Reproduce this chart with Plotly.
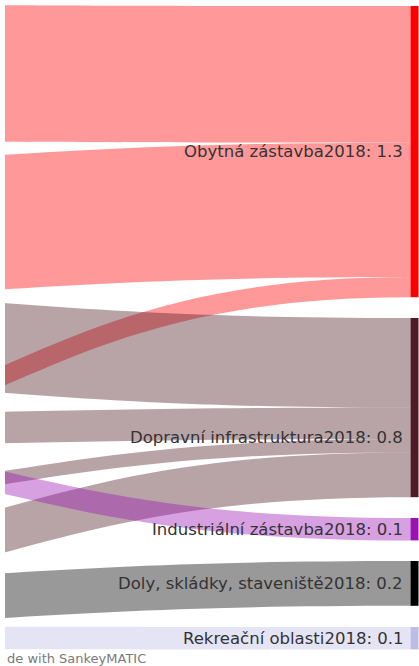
import plotly.graph_objects as go

# ---- data ----
targets = ["Obytná zástavba2018", "Dopravní infrastruktura2018", "Industriální zástavba2018",
           "Doly, skládky, staveniště2018", "Rekreační oblasti2018"]
target_totals = ["1.3", "0.8", "0.1", "0.2", "0.1"]
target_colors = ["#ff0000", "#4e1a24", "#9b12b3", "#000000", "#bcbce6"]

# flows entering the 2018 categories (their sources lie outside the cropped view)
link_target = [0, 0, 0, 1, 1, 1, 1, 2, 3, 4]
link_value = [0.61, 0.60, 0.09, 0.40, 0.14, 0.06, 0.20, 0.10, 0.20, 0.10]

# ---- layout / geometry ----
W, H = 419, 666
KY = 224.0            # px per unit
THICK = 8
SRC_RIGHT = -400      # right edge of the (off-screen) source column, px
TGT_LEFT = 410.5      # left edge of the 2018 column, px
target_top = [6, 318, 518, 561, 627]
# vertical centre of each flow where it crosses the left border of the view
edge_mid = [73.5, 222, 375, 348, 427.5, 477.5, 530, 483, 595.5, 638]
# label centre y overrides (px) for labels not placed at the node centre
label_y_override = {1: 437}
FONT = "DejaVu Sans"
FSIZE = 16.5

n_src = len(link_value)
pad = (H - KY * sum(link_value)) / (n_src - 1)

tgt_height = [0.0] * len(targets)
for t, v in zip(link_target, link_value):
    tgt_height[t] += KY * v
tgt_center = [top + h / 2 for top, h in zip(target_top, tgt_height)]

fill = list(target_top)
link_tgt_mid = []
for t, v in zip(link_target, link_value):
    h = KY * v
    link_tgt_mid.append(fill[t] + h / 2)
    fill[t] += h
src_center = [2 * e - m for e, m in zip(edge_mid, link_tgt_mid)]


def rgba(hexc, a):
    hexc = hexc.lstrip("#")
    r, g, b = int(hexc[0:2], 16), int(hexc[2:4], 16), int(hexc[4:6], 16)
    return f"rgba({r},{g},{b},{a})"


full_labels = [f"{n}: {v}" for n, v in zip(targets, target_totals)]
node_labels = [""] * (n_src + len(targets))
node_colors = ["rgba(0,0,0,0)"] * n_src + target_colors
node_x = [(SRC_RIGHT - THICK / 2) / W] * n_src + [(TGT_LEFT + THICK / 2) / W] * len(targets)
node_y = [c / H for c in src_center] + [c / H for c in tgt_center]
link_colors = [rgba(target_colors[t], 0.4) for t in link_target]

fig = go.Figure(go.Sankey(
    arrangement="fixed",
    domain=dict(x=[0, 1], y=[0, 1]),
    node=dict(label=node_labels, color=node_colors, x=node_x, y=node_y,
              pad=pad, thickness=THICK, line=dict(width=0), hoverinfo="none"),
    link=dict(source=list(range(n_src)), target=[n_src + t for t in link_target],
              value=link_value, color=link_colors, hoverinfo="none"),
    textfont=dict(family=FONT, size=FSIZE, color="#333333", shadow="none"),
))

annotations = [dict(text=lab, xref="paper", yref="paper",
                    x=(TGT_LEFT - 6) / W, y=1 - label_y_override.get(i, tgt_center[i]) / H,
                    xanchor="right", yanchor="middle",
                    showarrow=False, font=dict(family=FONT, size=FSIZE, color="#333333"))
               for i, lab in enumerate(full_labels)]
annotations.append(dict(text="de with SankeyMATIC", xref="paper", yref="paper",
                        x=5 / W, y=1 - 658 / H, xanchor="left", yanchor="middle",
                        showarrow=False,
                        font=dict(family=FONT, size=13, color="#7a7a7a")))

fig.update_layout(
    width=W, height=H,
    margin=dict(l=0, r=0, t=0, b=0),
    paper_bgcolor="white",
    shapes=[dict(type="rect", xref="paper", yref="paper", x0=0, x1=5 / W, y0=0, y1=1,
                 fillcolor="white", line=dict(width=0), layer="above")],
    annotations=annotations,
)

fig.write_html("out.html", config={"displayModeBar": False},
               post_script="document.body.style.margin='0';document.body.style.overflow='hidden';")
